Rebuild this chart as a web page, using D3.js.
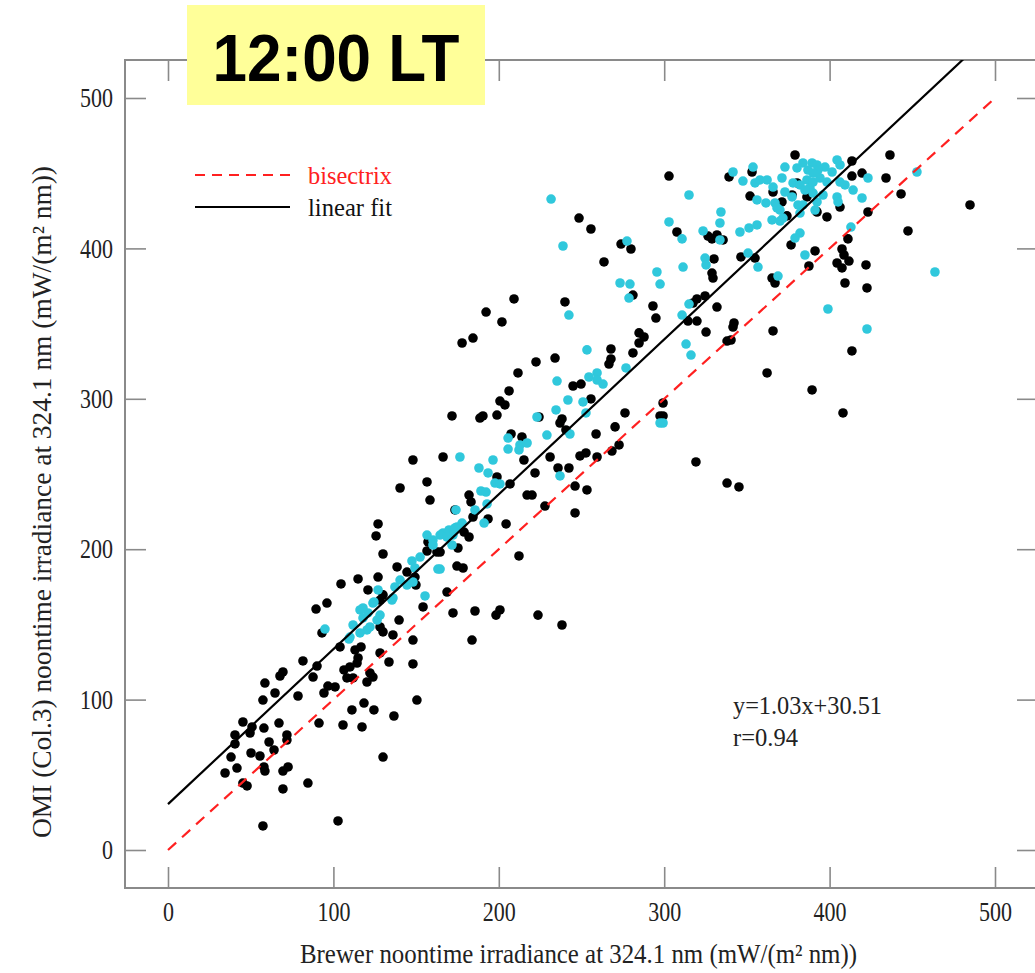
<!DOCTYPE html>
<html>
<head>
<meta charset="utf-8">
<script src="https://cdn.jsdelivr.net/npm/d3@7"></script>
<style>
  html, body { margin: 0; padding: 0; background: #fff; }
  svg { display: block; }
</style>
</head>
<body>
<div id="chart"></div>
<script>
// ---------------- DATA ----------------
const titleText = "12:00 LT";
const xTicks = [0, 100, 200, 300, 400, 500];
const yTicks = [0, 100, 200, 300, 400, 500];
const xTitle = "Brewer noontime irradiance at 324.1 nm (mW/(m\u00B2 nm))";
const yTitle = "OMI (Col.3) noontime irradiance at 324.1 nm (mW/(m\u00B2 nm))";
const legendLabels = ["bisectrix", "linear fit"];
const fitSlope = 1.03;
const fitIntercept = 30.51;
const fitLabels = ["y=1.03x+30.51", "r=0.94"];

// black points [Brewer, OMI]
const blackPoints = [
 [89.5,160.2],[96.1,164.2],[93.1,144.3],[81.6,125.7],[90.1,122.3],[87.7,115.0],[69.5,118.4],[67.7,115.7],
 [58.6,111.0],[64.7,104.4],[57.4,99.7],[78.6,102.4],[94.3,104.4],[96.7,109.0],[101.0,108.4],[104.0,135.0],
 [106.4,119.7],[110.0,121.7],[108.2,114.4],[111.9,114.4],[113.1,133.0],[114.9,127.7],[114.3,124.3],[116.7,135.0],
 [120.3,111.7],[122.1,117.7],[123.9,115.0],[128.2,131.0],[133.6,125.0],[130.0,145.0],[128.2,148.3],[139.7,152.9],
 [136.0,143.0],[148.1,139.6],[148.1,123.7],[150.5,99.7],[45.3,85.1],[40.5,76.5],[40.5,70.5],[50.8,81.8],
 [49.6,77.8],[58.0,81.1],[67.1,84.4],[91.3,84.4],[105.8,83.1],[117.3,81.8],[111.2,93.1],[118.5,97.7],
 [124.5,93.1],[136.6,89.1],[61.1,71.8],[64.1,66.5],[71.9,76.5],[71.9,73.1],[50.2,64.5],[55.6,62.5],
 [38.1,61.8],[41.7,54.5],[34.5,51.2],[58.0,55.2],[58.6,52.5],[69.5,52.5],[72.6,55.2],[45.3,44.5],
 [47.8,42.6],[69.5,40.6],[84.6,44.5],[130.0,61.8],[57.4,16.0],[102.8,19.3],
 [148.1,259.3],[166.3,261.3],[140.3,240.7],[156.6,244.7],[158.4,232.7],[173.5,226.1],[127.0,216.8],[125.8,208.8],
 [130.0,196.8],[157.2,204.8],[156.6,198.8],[162.6,198.1],[138.5,188.2],[144.5,184.8],[149.3,181.5],[127.0,181.5],
 [114.9,180.2],[104.6,176.9],[120.9,172.9],[149.9,176.2],[130.0,169.6],[128.2,166.2],[168.7,171.5],[154.2,161.6],
 [174.7,188.8],[175.3,200.8],
 [209.2,366.4],[192.3,357.7],[201.9,351.1],[240.0,364.4],[177.8,337.1],[184.4,340.4],[281.1,369.0],[293.2,361.7],
 [295.0,353.7],[284.8,343.8],[287.8,341.1],[284.8,337.1],[267.8,333.1],[267.8,326.5],[266.6,323.1],[281.1,330.5],
 [222.5,324.5],[234.0,327.1],[211.6,317.2],[244.9,308.5],[249.7,309.8],[206.2,305.2],[255.7,299.9],[200.7,298.5],
 [203.7,295.9],[171.7,288.6],[188.6,287.2],[190.4,288.6],[198.9,289.2],[224.3,287.9],[238.2,286.6],[237.0,283.9],
 [240.6,279.3],[276.3,290.6],[270.3,281.3],[258.8,276.6],[207.4,276.6],[214.0,274.6],[272.7,269.3],[268.4,265.3],
 [249.1,262.0],[252.7,264.0],[259.4,261.3],[231.0,261.3],[215.2,259.3],[235.8,254.0],[242.4,254.0],[221.9,250.7],
 [198.9,248.0],[297.5,288.6],
 [206.8,243.4],[182.0,236.0],[183.2,231.4],[217.1,236.0],[220.1,236.0],[246.1,242.0],[253.3,239.4],[227.9,228.7],
 [246.1,224.1],[184.4,221.4],[193.5,220.1],[204.4,216.8],[179.0,211.4],[182.0,208.1],[164.5,198.1],[178.4,187.5],
 [212.2,195.5],[172.3,157.6],[185.6,158.9],[198.3,156.2],[200.7,159.6],[223.7,156.2],[238.2,149.6],[183.8,139.6],
 [319.2,258.0],[338.0,244.0],[345.2,241.4],
 [379.1,462.1],[302.9,448.1],[339.2,447.5],[353.1,450.8],[248.5,420.2],[255.7,412.9],[351.9,434.8],[365.8,437.5],
 [371.2,430.9],[374.2,421.6],[377.3,435.5],[380.3,443.5],[386.3,434.2],[392.4,424.2],[273.9,402.9],[279.9,399.6],
 [307.7,410.9],[326.5,408.2],[331.9,408.9],[328.9,406.3],[335.6,405.6],[263.6,391.0],[330.1,393.0],[328.9,383.6],
 [329.5,380.3],[346.4,394.3],[354.9,393.6],[365.2,380.3],[367.0,377.0],[376.7,402.3],[387.5,388.3],[391.2,398.3],
 [324.7,368.4],[319.8,366.4],
 [317.4,363.7],[331.9,361.0],[314.4,351.7],[319.8,351.7],[325.3,344.4],[342.2,350.4],[341.6,347.7],[338.0,338.4],
 [340.4,339.1],[365.8,345.1],[362.2,317.2],[389.4,305.9],[408.1,290.6],[413.5,331.8],[299.3,297.2],[299.3,288.6],
 [436.5,462.1],[413.5,458.1],[419.6,450.1],[413.5,448.1],[434.1,446.8],[391.8,424.9],[398.4,420.9],[406.3,427.5],
 [423.2,424.2],[443.2,436.2],[484.9,428.9],[447.4,411.6],[411.1,406.3],[407.5,399.6],[408.7,395.6],[411.7,391.6],
 [404.5,390.3],[407.5,387.0],[422.0,389.0],[409.3,377.0],[422.6,373.7]
];

// cyan points [Brewer, OMI]
const cyanPoints = [
 [94.9,146.9],[116.1,159.6],[117.9,154.3],[120.9,157.6],[123.9,164.2],[128.2,156.2],[126.4,152.9],[111.9,149.6],
 [120.3,146.3],[122.1,148.3],[110.0,141.6],[116.1,144.3],[109.4,140.3],[135.4,166.2],
 [176.5,261.3],[174.1,226.1],[156.6,209.4],[160.2,206.1],[166.3,210.8],[169.9,212.8],[172.3,209.4],[174.7,214.8],
 [160.2,202.8],[171.7,202.8],[147.5,192.2],[152.4,194.8],[149.3,187.5],[163.2,186.8],[140.3,179.5],[137.2,174.9],
 [144.5,176.2],[148.1,178.2],[127.0,172.9],[124.5,164.9],[136.0,167.6],[155.4,168.9],[117.9,160.9],
 [273.3,377.0],[279.3,376.3],[278.7,367.0],[242.4,355.7],[253.3,332.5],[276.9,320.5],[259.4,317.2],[254.5,314.5],
 [259.4,312.5],[263.0,309.8],[235.2,311.8],[241.8,299.2],[250.9,297.9],[234.6,292.6],[252.7,290.6],[223.1,287.9],
 [229.1,275.9],[243.0,276.6],[205.6,273.9],[205.6,266.6],[212.8,269.3],[217.1,270.6],[212.2,266.0],[196.5,259.3],
 [188.0,254.0],[193.5,250.7],[237.0,248.7],[297.5,283.9],
 [197.7,244.0],[200.7,243.4],[189.2,238.7],[192.3,238.0],[192.9,230.1],[185.6,226.1],[191.1,217.4],[177.8,217.4],
 [173.5,214.1],[164.5,209.4],[168.7,208.1],[164.5,186.8],
 [231.6,432.8],[238.8,401.6],[277.5,404.9],[315.0,435.5],[334.3,424.2],[333.7,416.9],[302.9,417.6],[310.8,406.3],
 [323.5,411.6],[333.7,405.6],[341.6,450.8],[353.7,454.1],[347.6,444.8],[354.9,443.5],[357.9,445.5],[362.2,445.5],
 [365.8,440.8],[371.2,446.8],[373.0,454.1],[380.3,453.5],[383.9,456.8],[389.4,456.8],[392.4,455.5],[386.9,452.1],
 [377.9,443.5],[382.1,442.2],[386.3,445.5],[388.1,440.2],[390.0,436.8],[390.0,444.1],[373.0,437.5],[377.3,434.2],
 [356.1,432.2],[361.5,430.2],[367.0,430.2],[370.0,425.5],[368.2,426.9],[380.9,428.9],[382.1,423.5],[365.2,418.9],
 [370.0,418.2],[371.8,420.2],[345.8,410.9],[351.3,413.6],[356.1,415.6],[382.1,410.2],[379.1,406.9],[385.1,395.6],
 [350.7,396.9],[356.7,387.6],[368.8,381.6],[324.7,393.6],[325.3,389.0],[311.4,387.6],[295.6,384.3],[297.5,376.3],
 [391.2,425.5],
 [315.0,363.0],[310.8,355.7],[313.2,336.4],[316.2,329.1],[399.0,359.7],[299.3,283.9],
 [452.8,450.8],[419.6,433.5],[423.2,446.8],[414.2,438.8],[404.5,458.8],[406.3,455.5],[401.5,450.8],[397.2,454.1],
 [393.0,452.1],[390.0,450.1],[394.2,446.8],[398.4,444.1],[406.3,444.1],[409.3,442.2],[396.0,435.5],[404.5,434.2],
 [405.1,430.9],[392.4,430.9],[385.1,438.8],[383.9,428.9],[412.9,414.2],[463.7,384.3],[422.6,346.4]
];

// ---------------- CHART ----------------
const W = 1035, H = 973;
const frame = { left: 125, right: 1037, top: 60, bottom: 888 };

const svg = d3.select("#chart").append("svg")
  .attr("width", W).attr("height", H);

const x = d3.scaleLinear().domain([0, 500]).range([168, 995]);
const y = d3.scaleLinear().domain([0, 500]).range([850, 98]);

const gray = "#8a8a8a";
const serif = "'Liberation Serif', 'Times New Roman', serif";

svg.append("defs").append("clipPath").attr("id", "plotclip")
  .append("rect")
  .attr("x", frame.left).attr("y", frame.top)
  .attr("width", frame.right - frame.left).attr("height", frame.bottom - frame.top);

// axes
function styleAxis(g) {
  g.select(".domain").remove();
  g.selectAll(".tick line").attr("stroke", gray).attr("stroke-width", 1.6);
}
const gB = svg.append("g").attr("transform", `translate(0,${frame.bottom})`)
  .call(d3.axisBottom(x).tickValues(xTicks).tickSize(-21).tickPadding(14).tickFormat(d3.format("d")));
styleAxis(gB);
gB.selectAll("text").attr("font-family", serif).attr("font-size", 27).attr("fill", "#222")
  .attr("textLength", d => String(d).length * 11).attr("lengthAdjust", "spacingAndGlyphs");

const gT = svg.append("g").attr("transform", `translate(0,${frame.top})`)
  .call(d3.axisTop(x).tickValues(xTicks).tickSize(-21).tickFormat(""));
styleAxis(gT);

const gL = svg.append("g").attr("transform", `translate(${frame.left},0)`)
  .call(d3.axisLeft(y).tickValues(yTicks).tickSize(-21).tickPadding(12).tickFormat(d3.format("d")));
styleAxis(gL);
gL.selectAll("text").attr("font-family", serif).attr("font-size", 27).attr("fill", "#222")
  .attr("textLength", d => String(d).length * 11).attr("lengthAdjust", "spacingAndGlyphs");

const gR = svg.append("g").attr("transform", `translate(${frame.right},0)`)
  .call(d3.axisRight(y).tickValues(yTicks).tickSize(-20).tickFormat(""));
styleAxis(gR);

// frame
svg.append("rect")
  .attr("x", frame.left).attr("y", frame.top)
  .attr("width", frame.right - frame.left).attr("height", frame.bottom - frame.top)
  .attr("fill", "none").attr("stroke", gray).attr("stroke-width", 2);

// points
const plot = svg.append("g").attr("clip-path", "url(#plotclip)");
plot.selectAll("circle.blk").data(blackPoints).join("circle")
  .attr("class", "blk")
  .attr("cx", d => x(d[0])).attr("cy", d => y(d[1])).attr("r", 4.8)
  .attr("fill", "#000");
plot.selectAll("circle.cyn").data(cyanPoints).join("circle")
  .attr("class", "cyn")
  .attr("cx", d => x(d[0])).attr("cy", d => y(d[1])).attr("r", 4.8)
  .attr("fill", "#30c8dc");

// lines
plot.append("line")
  .attr("x1", x(0)).attr("y1", y(0)).attr("x2", x(500)).attr("y2", y(500))
  .attr("stroke", "#ff2020").attr("stroke-width", 2.2).attr("stroke-dasharray", "11,8");
plot.append("line")
  .attr("x1", x(0)).attr("y1", y(fitIntercept))
  .attr("x2", x(500)).attr("y2", y(fitIntercept + fitSlope * 500))
  .attr("stroke", "#000").attr("stroke-width", 2.2);

// legend
svg.append("line").attr("x1", 195).attr("x2", 292).attr("y1", 175).attr("y2", 175)
  .attr("stroke", "#ff2020").attr("stroke-width", 2).attr("stroke-dasharray", "10,7");
svg.append("line").attr("x1", 195).attr("x2", 290).attr("y1", 207).attr("y2", 207)
  .attr("stroke", "#000").attr("stroke-width", 2);
svg.append("text").attr("x", 308).attr("y", 184).text(legendLabels[0])
  .attr("font-family", serif).attr("font-size", 25).attr("fill", "#ff2020")
  .attr("textLength", 84).attr("lengthAdjust", "spacingAndGlyphs");
svg.append("text").attr("x", 308).attr("y", 216).text(legendLabels[1])
  .attr("font-family", serif).attr("font-size", 25).attr("fill", "#111")
  .attr("textLength", 84).attr("lengthAdjust", "spacingAndGlyphs");

// fit equation
svg.append("text").attr("x", 733).attr("y", 714).text(fitLabels[0])
  .attr("font-family", serif).attr("font-size", 26).attr("fill", "#222")
  .attr("textLength", 149).attr("lengthAdjust", "spacingAndGlyphs");
svg.append("text").attr("x", 733).attr("y", 746).text(fitLabels[1])
  .attr("font-family", serif).attr("font-size", 26).attr("fill", "#222")
  .attr("textLength", 65).attr("lengthAdjust", "spacingAndGlyphs");

// axis titles
svg.append("text").attr("x", 300).attr("y", 963)
  .attr("font-family", serif).attr("font-size", 27).attr("fill", "#222")
  .attr("textLength", 557).attr("lengthAdjust", "spacingAndGlyphs")
  .text(xTitle);

svg.append("text")
  .attr("transform", "translate(51,838) rotate(-90)")
  .attr("font-family", serif).attr("font-size", 27).attr("fill", "#222")
  .attr("textLength", 672).attr("lengthAdjust", "spacingAndGlyphs")
  .text(yTitle);

// title box
svg.append("rect").attr("x", 187).attr("y", 5).attr("width", 298).attr("height", 100)
  .attr("fill", "#ffff99");
svg.append("text").attr("x", 336).attr("y", 81).attr("text-anchor", "middle")
  .attr("font-family", "'Liberation Sans', Arial, sans-serif").attr("font-weight", "bold")
  .attr("font-size", 66).attr("fill", "#000")
  .attr("textLength", 247).attr("lengthAdjust", "spacingAndGlyphs")
  .text(titleText);
</script>
</body>
</html>
